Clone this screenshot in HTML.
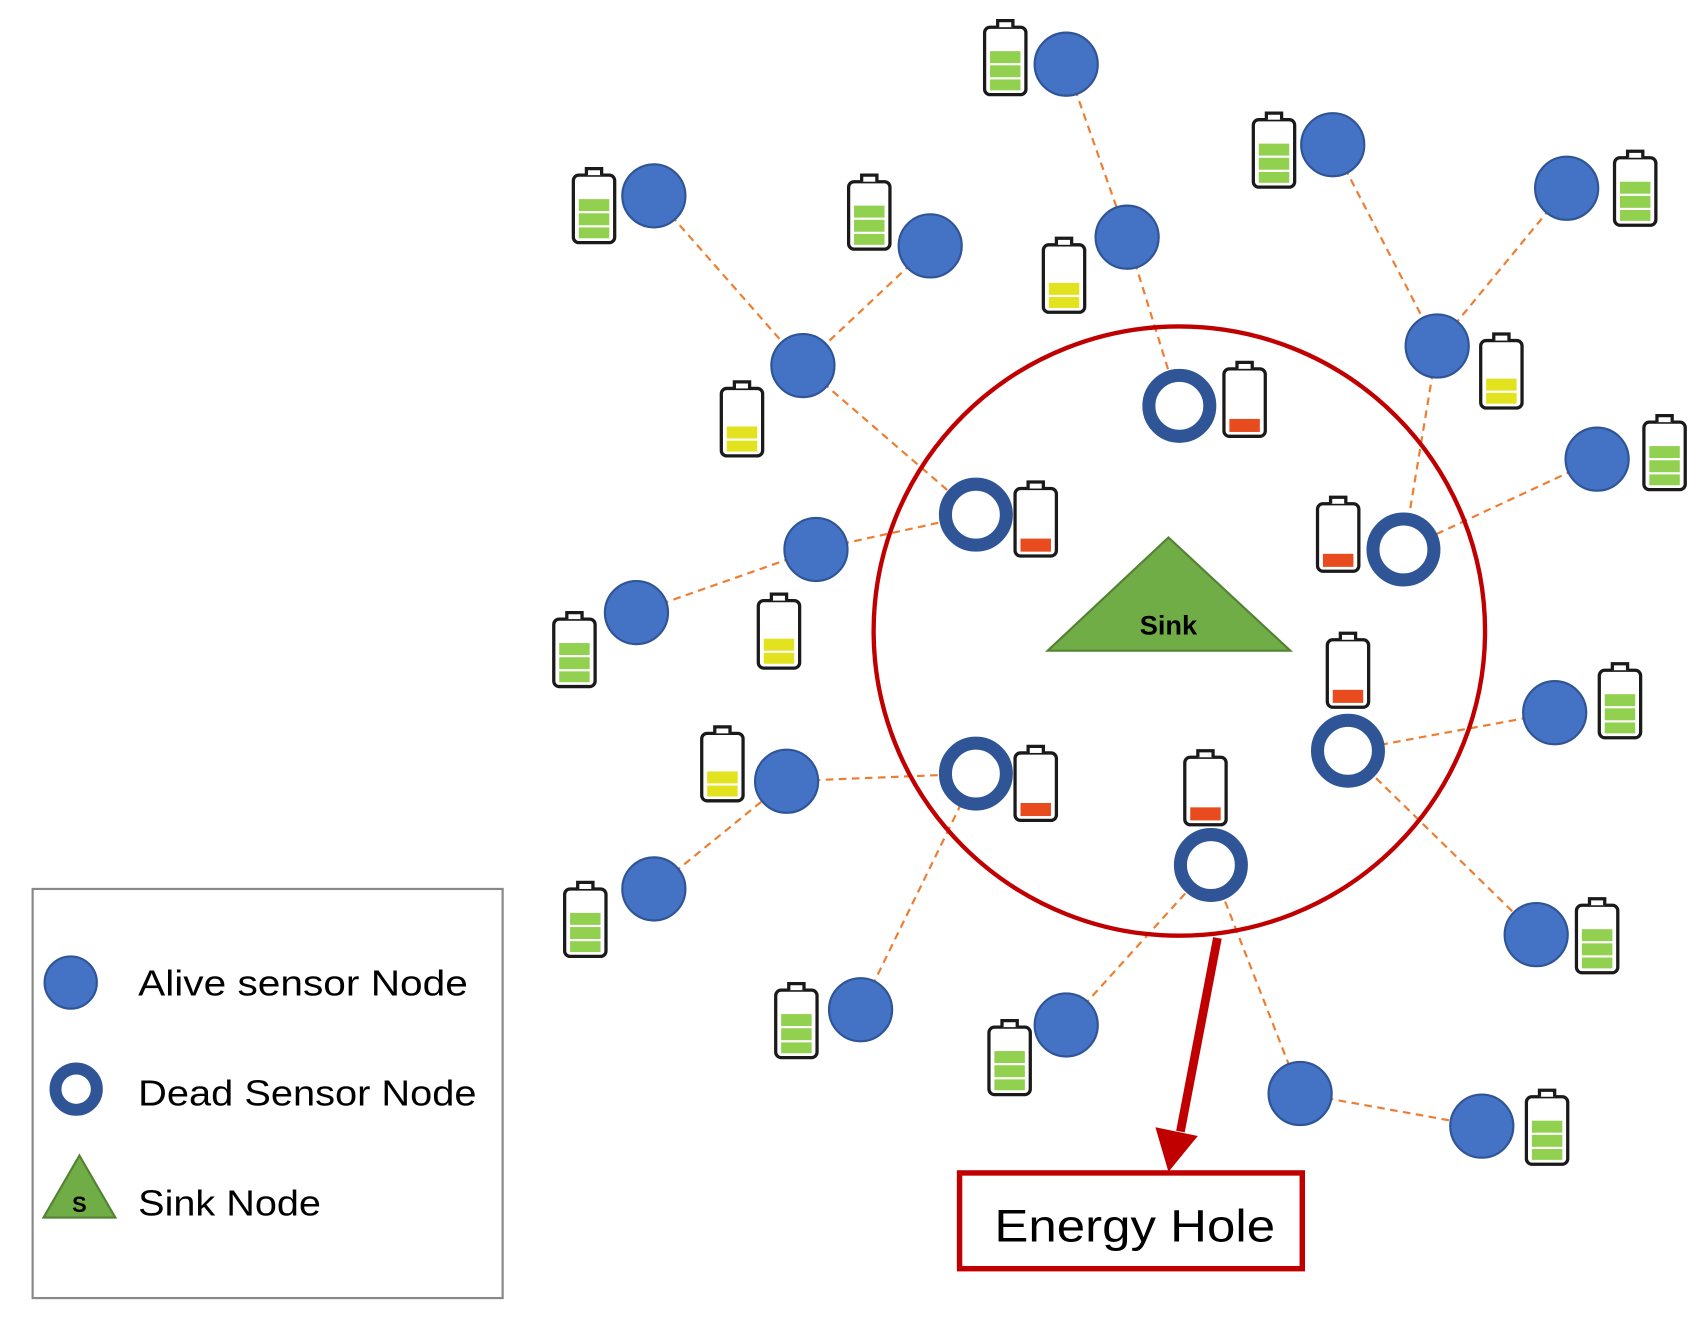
<!DOCTYPE html>
<html><head><meta charset="utf-8"><style>
html,body{margin:0;padding:0;background:#fff;}
svg{display:block;}
</style></head><body>
<svg width="1707" height="1322" viewBox="0 0 1569 1215" preserveAspectRatio="none" xmlns="http://www.w3.org/2000/svg">
<defs>
<g id="bat">
 <rect x="-19" y="-29" width="38" height="62" rx="5" fill="#fff" stroke="#1a1a1a" stroke-width="3"/>
 <path d="M-7,-29 V-35 H7 V-29" fill="#fff" stroke="#1a1a1a" stroke-width="3"/>
</g>
<g id="bg"><use href="#bat"/>
 <rect x="-14" y="-7" width="28" height="11" fill="#92D050"/>
 <rect x="-14" y="6" width="28" height="11" fill="#92D050"/>
 <rect x="-14" y="19" width="28" height="10" fill="#92D050"/>
</g>
<g id="by"><use href="#bat"/>
 <rect x="-14" y="6" width="28" height="11" fill="#E2E21E"/>
 <rect x="-14" y="19" width="28" height="10" fill="#E2E21E"/>
</g>
<g id="br"><use href="#bat"/>
 <rect x="-14" y="17" width="28" height="12" fill="#E84C1E"/>
</g>
</defs>

<g stroke="#ED7D31" stroke-width="2" stroke-dasharray="7,5" fill="none">
<line x1="980" y1="59" x2="1036" y2="218"/>
<line x1="1036" y1="218" x2="1084" y2="373"/>
<line x1="1225" y1="133" x2="1321" y2="318"/>
<line x1="1440" y1="173" x2="1321" y2="318"/>
<line x1="1321" y1="318" x2="1290" y2="505"/>
<line x1="601" y1="180" x2="738" y2="336"/>
<line x1="855" y1="226" x2="738" y2="336"/>
<line x1="738" y1="336" x2="897" y2="473"/>
<line x1="750" y1="505" x2="897" y2="473"/>
<line x1="585" y1="563" x2="750" y2="505"/>
<line x1="1468" y1="422" x2="1290" y2="505"/>
<line x1="723" y1="718" x2="897" y2="711"/>
<line x1="601" y1="817" x2="723" y2="718"/>
<line x1="791" y1="928" x2="897" y2="711"/>
<line x1="1429" y1="655" x2="1239" y2="690"/>
<line x1="1239" y1="690" x2="1412" y2="859"/>
<line x1="980" y1="942" x2="1113" y2="795"/>
<line x1="1113" y1="795" x2="1195" y2="1005"/>
<line x1="1195" y1="1005" x2="1362" y2="1035"/>
</g>

<ellipse cx="1084" cy="580" rx="281" ry="280" fill="none" stroke="#C00000" stroke-width="4"/>

<polygon points="963,598 1186,598 1074,494" fill="#70AD47" stroke="#548235" stroke-width="2"/>
<text x="1074" y="583" font-family="Liberation Sans, sans-serif" font-weight="bold" font-size="25" text-anchor="middle">Sink</text>

<g fill="#4472C4" stroke="#2F5597" stroke-width="2">
<circle cx="980" cy="59" r="29"/>
<circle cx="1225" cy="133" r="29"/>
<circle cx="601" cy="180" r="29"/>
<circle cx="855" cy="226" r="29"/>
<circle cx="1036" cy="218" r="29"/>
<circle cx="1440" cy="173" r="29"/>
<circle cx="738" cy="336" r="29"/>
<circle cx="1321" cy="318" r="29"/>
<circle cx="1468" cy="422" r="29"/>
<circle cx="750" cy="505" r="29"/>
<circle cx="585" cy="563" r="29"/>
<circle cx="723" cy="718" r="29"/>
<circle cx="601" cy="817" r="29"/>
<circle cx="1429" cy="655" r="29"/>
<circle cx="791" cy="928" r="29"/>
<circle cx="980" cy="942" r="29"/>
<circle cx="1412" cy="859" r="29"/>
<circle cx="1195" cy="1005" r="29"/>
<circle cx="1362" cy="1035" r="29"/>
</g>
<g fill="#fff" stroke="#2F5597" stroke-width="12">
<circle cx="1084" cy="373" r="28"/>
<circle cx="897" cy="473" r="28"/>
<circle cx="1290" cy="505" r="28"/>
<circle cx="1239" cy="690" r="28"/>
<circle cx="897" cy="711" r="28"/>
<circle cx="1113" cy="795" r="28"/>
</g>

<use href="#bg" x="924" y="54"/>
<use href="#bg" x="1171" y="139"/>
<use href="#bg" x="546" y="190"/>
<use href="#bg" x="799" y="196"/>
<use href="#by" x="978" y="254"/>
<use href="#bg" x="1503" y="174"/>
<use href="#by" x="682" y="386"/>
<use href="#by" x="1380" y="342"/>
<use href="#bg" x="1530" y="417"/>
<use href="#by" x="716" y="581"/>
<use href="#bg" x="528" y="598"/>
<use href="#by" x="664" y="703"/>
<use href="#bg" x="538" y="846"/>
<use href="#bg" x="1489" y="645"/>
<use href="#bg" x="732" y="939"/>
<use href="#bg" x="928" y="973"/>
<use href="#bg" x="1468" y="861"/>
<use href="#bg" x="1422" y="1037"/>
<use href="#br" x="1144" y="368"/>
<use href="#br" x="952" y="478"/>
<use href="#br" x="1230" y="492"/>
<use href="#br" x="1239" y="617"/>
<use href="#br" x="952" y="721"/>
<use href="#br" x="1108" y="725"/>

<line x1="1119" y1="862" x2="1085" y2="1040" stroke="#C00000" stroke-width="8"/>
<polygon points="1062,1036 1101,1044 1074,1077" fill="#C00000"/>

<rect x="882" y="1078" width="315" height="88" fill="#fff" stroke="#C00000" stroke-width="5"/>
<text x="1043" y="1141" font-family="Liberation Sans, sans-serif" font-size="42" text-anchor="middle" textLength="258" lengthAdjust="spacingAndGlyphs">Energy Hole</text>

<rect x="30" y="817" width="432" height="376" fill="#fff" stroke="#888" stroke-width="2"/>
<circle cx="65" cy="903" r="24" fill="#4472C4" stroke="#2F5597" stroke-width="2"/>
<circle cx="70" cy="1001" r="19" fill="#fff" stroke="#2F5597" stroke-width="11"/>
<polygon points="40,1119 106,1119 73,1062" fill="#70AD47" stroke="#548235" stroke-width="2"/>
<text x="73" y="1114" font-family="Liberation Sans, sans-serif" font-weight="bold" font-size="20" text-anchor="middle">S</text>
<g font-family="Liberation Sans, sans-serif" font-size="33" fill="#000">
<text x="127" y="915" textLength="303" lengthAdjust="spacingAndGlyphs">Alive sensor Node</text>
<text x="127" y="1016" textLength="311" lengthAdjust="spacingAndGlyphs">Dead Sensor Node</text>
<text x="127" y="1117" textLength="168" lengthAdjust="spacingAndGlyphs">Sink Node</text>
</g>
</svg>
</body></html>
